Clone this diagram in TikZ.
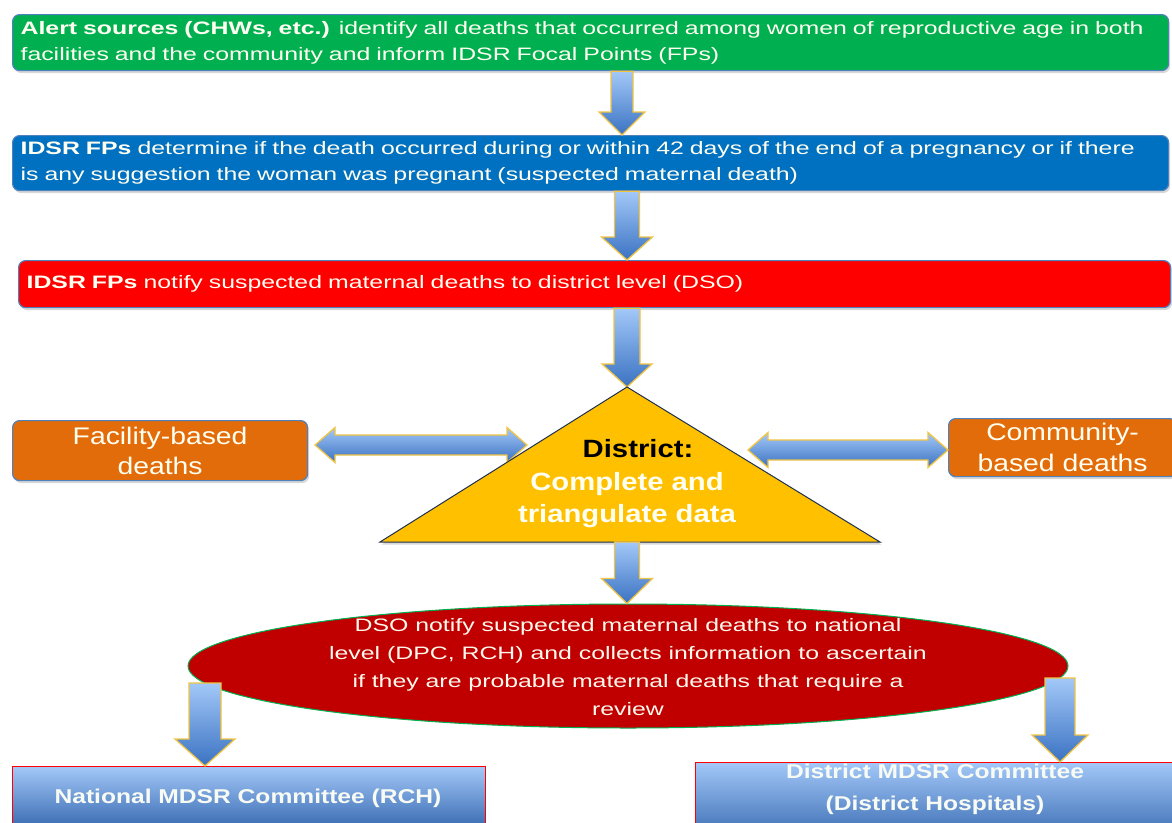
\documentclass[tikz,border=0pt]{standalone}
\usepackage{fontspec}
\setmainfont{Liberation Sans}
\newfontfamily\wideA[FakeStretch=1.38]{Liberation Sans}
\newfontfamily\wideB[FakeStretch=1.18]{Liberation Sans}
\newfontfamily\wideC[FakeStretch=1.17]{Liberation Sans}
\newfontfamily\wideD[FakeStretch=1.23]{Liberation Sans}
\usetikzlibrary{shapes.geometric,shadows,calc}
\definecolor{cgreen}{HTML}{00B050}
\definecolor{cblue}{HTML}{0070C0}
\definecolor{cred}{HTML}{FF0000}
\definecolor{corange}{HTML}{E36C0A}
\definecolor{cgold}{HTML}{FFC000}
\definecolor{cdark}{HTML}{C00000}
\definecolor{cborder}{HTML}{4F81BD}
\definecolor{cline}{HTML}{F2C443}
\definecolor{catop}{HTML}{A3C8F8}
\definecolor{cabot}{HTML}{3A72C2}
\definecolor{ctext}{HTML}{FFFFF2}
\definecolor{ctri}{HTML}{1F3050}
\newcommand{\dnarrow}[5]{%
  \path[barrow] let \p1=(#1), \p2=(#2) in
  ({\x1-#3pt},\y1) -- ({\x1+#3pt},\y1) -- ({\x1+#3pt},{\y2+#5pt}) --
  ({\x1+#4pt},{\y2+#5pt}) -- (\x1,\y2) -- ({\x1-#4pt},{\y2+#5pt}) --
  ({\x1-#3pt},{\y2+#5pt}) -- cycle;}
\newcommand{\dblarrow}[2]{%
  \path[barrow] let \p1=(#1), \p2=(#2) in
  (\x1,\y1) -- ({\x1+20pt},{\y1+17.5pt}) -- ({\x1+20pt},{\y1+10pt}) --
  ({\x2-20pt},{\y1+10pt}) -- ({\x2-20pt},{\y1+17.5pt}) -- (\x2,\y1) --
  ({\x2-20pt},{\y1-17.5pt}) -- ({\x2-20pt},{\y1-10pt}) --
  ({\x1+20pt},{\y1-10pt}) -- ({\x1+20pt},{\y1-17.5pt}) -- cycle;}
\tikzset{
  box/.style={draw=cborder, line width=1.2pt, rounded corners=7pt, anchor=north west,
    text=ctext, drop shadow={opacity=0.3, shadow xshift=1.5pt, shadow yshift=-2.5pt}},
  wtext/.style={font=\wideA\fontsize{18}{26}\selectfont},
  barrow/.style={draw=cline, line width=1.3pt, top color=catop, bottom color=cabot},
  cbox/.style={draw=cred, line width=1pt, top color=catop, bottom color=cabot!90!black,
    anchor=north west, inner sep=0pt},
  ctxt/.style={text=ctext!92!catop, font=\wideD\bfseries\fontsize{20}{32}\selectfont, align=center},
}
\begin{document}
\begin{tikzpicture}[x=1pt,y=-1pt]
\fill[white] (0,0) rectangle (1172,822);
\clip (0,0) rectangle (1172,822);
\coordinate (c1) at (622,0);
\coordinate (c2) at (627,0);
% top boxes
\node[box, wtext, fill=cgreen, minimum width=1156pt, minimum height=56pt, text width=1150pt,
  inner xsep=3pt, align=left] (green) at (12,14)
  {\hspace*{5pt}\textbf{Alert sources (CHWs, etc.)} identify all deaths that occurred among women of reproductive age in both\\
   \hspace*{5pt}facilities and the community and inform IDSR Focal Points (FPs)};
\node[box, wtext, fill=cblue, minimum width=1156pt, minimum height=55pt, text width=1150pt,
  inner xsep=3pt, align=left] (blue) at (12,135)
  {\hspace*{5pt}\textbf{IDSR FPs} determine if the death occurred during or within 42 days of the end of a pregnancy or if there\\
   \hspace*{5pt}is any suggestion the woman was pregnant (suspected maternal death)};
\node[box, wtext, fill=cred, minimum width=1152pt, minimum height=47pt, text width=1146pt,
  inner xsep=3pt, align=left] (red) at (18,260)
  {\hspace*{5pt}\textbf{IDSR FPs} notify suspected maternal deaths to district level (DSO)};
% side boxes
\node[box, fill=corange, minimum width=295pt, minimum height=60pt, align=center,
  font=\wideB\fontsize{24}{30}\selectfont] (fac) at (12,420) {Facility-based\\deaths};
\node[box, fill=corange, minimum width=228pt, minimum height=58pt, align=center,
  font=\wideB\fontsize{24}{31}\selectfont] (comm) at (948,418) {Community-\\based deaths};
% down arrows
\dnarrow{green.south -| c1}{blue.north -| c1}{11}{23}{23}
\dnarrow{blue.south -| c2}{red.north -| c2}{12.5}{25.5}{23}
% triangle
\coordinate (tA) at (627,387);
\coordinate (tL) at (380,542);
\coordinate (tR) at (880,542);
\dnarrow{red.south -| c2}{tA}{13}{25}{23}
\coordinate (hl1) at (315,445);
\coordinate (hl2) at (527,445);
\coordinate (hr1) at (748,450);
\coordinate (hr2) at (948,450);
\dblarrow{hl1}{hl2}
\dblarrow{hr1}{hr2}
\draw[fill=cgold, draw=ctri, line width=1pt, drop shadow={opacity=0.3, shadow xshift=1.5pt, shadow yshift=-2.5pt}]
  (tA) -- (tR) -- (tL) -- cycle;
\node[font=\wideC\bfseries\fontsize{25}{32.5}\selectfont, text=ctext, align=center] (tri) at (627,484)
  {\hspace*{22pt}\textcolor{black}{District:}\\Complete and\\triangulate data};
% ellipse
\node[ellipse, fill=cdark, draw=cgreen, line width=1pt, minimum width=880pt, minimum height=124pt] (dso) at (628,666) {};
\node[text=ctext!90!pink, align=center, font=\wideA\fontsize{18}{28}\selectfont] (dsotext) at (628,667)
  {DSO notify suspected maternal deaths to national\\
   level (DPC, RCH) and collects information to ascertain\\
   if they are probable maternal deaths that require a\\
   review};
\dnarrow{tL -| c2}{dso.north -| c2}{12.5}{25.5}{25}
% committees
\node[cbox, minimum width=473pt, minimum height=64pt] (nat) at (12,766) {};
\node[ctxt] (nattext) at (248,798) {National MDSR Committee (RCH)};
\node[cbox, minimum width=490pt, minimum height=80pt] (dh) at (695,762) {};
\node[ctxt] (dhtext) at (935,789) {District MDSR Committee\\(District Hospitals)};
\coordinate (b1) at (205,683);
\coordinate (b2) at (1060,678);
\dnarrow{b1}{nat.north -| b1}{16}{30}{27}
\dnarrow{b2}{dh.north -| b2}{15}{28}{27}
\end{tikzpicture}
\end{document}
